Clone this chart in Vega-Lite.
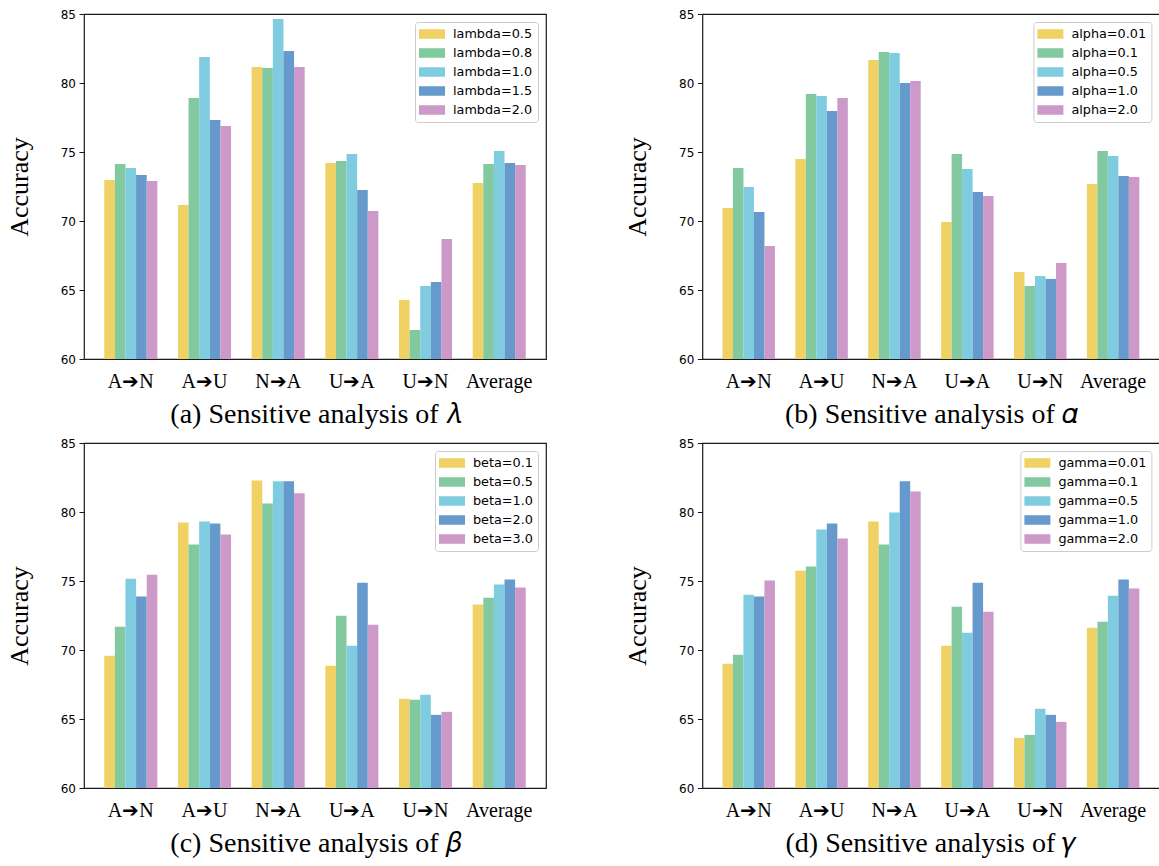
{
  "$schema": "https://vega.github.io/schema/vega-lite/v6.json",
  "background": "white",
  "padding": {"left": 5, "top": 7, "right": 0, "bottom": 0},
  "datasets": {
    "lambda": [
      {"task": "A➔N", "setting": "lambda=0.5", "acc": 72.97},
      {"task": "A➔N", "setting": "lambda=0.8", "acc": 74.13},
      {"task": "A➔N", "setting": "lambda=1.0", "acc": 73.84},
      {"task": "A➔N", "setting": "lambda=1.5", "acc": 73.33},
      {"task": "A➔N", "setting": "lambda=2.0", "acc": 72.9},
      {"task": "A➔U", "setting": "lambda=0.5", "acc": 71.16},
      {"task": "A➔U", "setting": "lambda=0.8", "acc": 78.91},
      {"task": "A➔U", "setting": "lambda=1.0", "acc": 81.88},
      {"task": "A➔U", "setting": "lambda=1.5", "acc": 77.32},
      {"task": "A➔U", "setting": "lambda=2.0", "acc": 76.88},
      {"task": "N➔A", "setting": "lambda=0.5", "acc": 81.16},
      {"task": "N➔A", "setting": "lambda=0.8", "acc": 81.09},
      {"task": "N➔A", "setting": "lambda=1.0", "acc": 84.64},
      {"task": "N➔A", "setting": "lambda=1.5", "acc": 82.32},
      {"task": "N➔A", "setting": "lambda=2.0", "acc": 81.16},
      {"task": "U➔A", "setting": "lambda=0.5", "acc": 74.2},
      {"task": "U➔A", "setting": "lambda=0.8", "acc": 74.35},
      {"task": "U➔A", "setting": "lambda=1.0", "acc": 74.86},
      {"task": "U➔A", "setting": "lambda=1.5", "acc": 72.25},
      {"task": "U➔A", "setting": "lambda=2.0", "acc": 70.72},
      {"task": "U➔N", "setting": "lambda=0.5", "acc": 64.28},
      {"task": "U➔N", "setting": "lambda=0.8", "acc": 62.1},
      {"task": "U➔N", "setting": "lambda=1.0", "acc": 65.29},
      {"task": "U➔N", "setting": "lambda=1.5", "acc": 65.58},
      {"task": "U➔N", "setting": "lambda=2.0", "acc": 68.7},
      {"task": "Average", "setting": "lambda=0.5", "acc": 72.75},
      {"task": "Average", "setting": "lambda=0.8", "acc": 74.13},
      {"task": "Average", "setting": "lambda=1.0", "acc": 75.07},
      {"task": "Average", "setting": "lambda=1.5", "acc": 74.2},
      {"task": "Average", "setting": "lambda=2.0", "acc": 74.06}
    ],
    "alpha": [
      {"task": "A➔N", "setting": "alpha=0.01", "acc": 70.94},
      {"task": "A➔N", "setting": "alpha=0.1", "acc": 73.84},
      {"task": "A➔N", "setting": "alpha=0.5", "acc": 72.46},
      {"task": "A➔N", "setting": "alpha=1.0", "acc": 70.65},
      {"task": "A➔N", "setting": "alpha=2.0", "acc": 68.19},
      {"task": "A➔U", "setting": "alpha=0.01", "acc": 74.49},
      {"task": "A➔U", "setting": "alpha=0.1", "acc": 79.2},
      {"task": "A➔U", "setting": "alpha=0.5", "acc": 79.06},
      {"task": "A➔U", "setting": "alpha=1.0", "acc": 77.97},
      {"task": "A➔U", "setting": "alpha=2.0", "acc": 78.91},
      {"task": "N➔A", "setting": "alpha=0.01", "acc": 81.67},
      {"task": "N➔A", "setting": "alpha=0.1", "acc": 82.25},
      {"task": "N➔A", "setting": "alpha=0.5", "acc": 82.17},
      {"task": "N➔A", "setting": "alpha=1.0", "acc": 80.0},
      {"task": "N➔A", "setting": "alpha=2.0", "acc": 80.14},
      {"task": "U➔A", "setting": "alpha=0.01", "acc": 69.93},
      {"task": "U➔A", "setting": "alpha=0.1", "acc": 74.86},
      {"task": "U➔A", "setting": "alpha=0.5", "acc": 73.77},
      {"task": "U➔A", "setting": "alpha=1.0", "acc": 72.1},
      {"task": "U➔A", "setting": "alpha=2.0", "acc": 71.81},
      {"task": "U➔N", "setting": "alpha=0.01", "acc": 66.3},
      {"task": "U➔N", "setting": "alpha=0.1", "acc": 65.29},
      {"task": "U➔N", "setting": "alpha=0.5", "acc": 66.01},
      {"task": "U➔N", "setting": "alpha=1.0", "acc": 65.8},
      {"task": "U➔N", "setting": "alpha=2.0", "acc": 66.96},
      {"task": "Average", "setting": "alpha=0.01", "acc": 72.68},
      {"task": "Average", "setting": "alpha=0.1", "acc": 75.07},
      {"task": "Average", "setting": "alpha=0.5", "acc": 74.71},
      {"task": "Average", "setting": "alpha=1.0", "acc": 73.26},
      {"task": "Average", "setting": "alpha=2.0", "acc": 73.19}
    ],
    "beta": [
      {"task": "A➔N", "setting": "beta=0.1", "acc": 69.58},
      {"task": "A➔N", "setting": "beta=0.5", "acc": 71.69},
      {"task": "A➔N", "setting": "beta=1.0", "acc": 75.17},
      {"task": "A➔N", "setting": "beta=2.0", "acc": 73.87},
      {"task": "A➔N", "setting": "beta=3.0", "acc": 75.46},
      {"task": "A➔U", "setting": "beta=0.1", "acc": 79.24},
      {"task": "A➔U", "setting": "beta=0.5", "acc": 77.64},
      {"task": "A➔U", "setting": "beta=1.0", "acc": 79.31},
      {"task": "A➔U", "setting": "beta=2.0", "acc": 79.17},
      {"task": "A➔U", "setting": "beta=3.0", "acc": 78.37},
      {"task": "N➔A", "setting": "beta=0.1", "acc": 82.29},
      {"task": "N➔A", "setting": "beta=0.5", "acc": 80.62},
      {"task": "N➔A", "setting": "beta=1.0", "acc": 82.22},
      {"task": "N➔A", "setting": "beta=2.0", "acc": 82.22},
      {"task": "N➔A", "setting": "beta=3.0", "acc": 81.35},
      {"task": "U➔A", "setting": "beta=0.1", "acc": 68.86},
      {"task": "U➔A", "setting": "beta=0.5", "acc": 72.49},
      {"task": "U➔A", "setting": "beta=1.0", "acc": 70.31},
      {"task": "U➔A", "setting": "beta=2.0", "acc": 74.88},
      {"task": "U➔A", "setting": "beta=3.0", "acc": 71.83},
      {"task": "U➔N", "setting": "beta=0.1", "acc": 66.46},
      {"task": "U➔N", "setting": "beta=0.5", "acc": 66.39},
      {"task": "U➔N", "setting": "beta=1.0", "acc": 66.75},
      {"task": "U➔N", "setting": "beta=2.0", "acc": 65.3},
      {"task": "U➔N", "setting": "beta=3.0", "acc": 65.52},
      {"task": "Average", "setting": "beta=0.1", "acc": 73.29},
      {"task": "Average", "setting": "beta=0.5", "acc": 73.79},
      {"task": "Average", "setting": "beta=1.0", "acc": 74.74},
      {"task": "Average", "setting": "beta=2.0", "acc": 75.1},
      {"task": "Average", "setting": "beta=3.0", "acc": 74.52}
    ],
    "gamma": [
      {"task": "A➔N", "setting": "gamma=0.01", "acc": 69.0},
      {"task": "A➔N", "setting": "gamma=0.1", "acc": 69.66},
      {"task": "A➔N", "setting": "gamma=0.5", "acc": 74.01},
      {"task": "A➔N", "setting": "gamma=1.0", "acc": 73.87},
      {"task": "A➔N", "setting": "gamma=2.0", "acc": 75.03},
      {"task": "A➔U", "setting": "gamma=0.01", "acc": 75.75},
      {"task": "A➔U", "setting": "gamma=0.1", "acc": 76.05},
      {"task": "A➔U", "setting": "gamma=0.5", "acc": 78.73},
      {"task": "A➔U", "setting": "gamma=1.0", "acc": 79.17},
      {"task": "A➔U", "setting": "gamma=2.0", "acc": 78.08},
      {"task": "N➔A", "setting": "gamma=0.01", "acc": 79.31},
      {"task": "N➔A", "setting": "gamma=0.1", "acc": 77.64},
      {"task": "N➔A", "setting": "gamma=0.5", "acc": 79.97},
      {"task": "N➔A", "setting": "gamma=1.0", "acc": 82.22},
      {"task": "N➔A", "setting": "gamma=2.0", "acc": 81.49},
      {"task": "U➔A", "setting": "gamma=0.01", "acc": 70.31},
      {"task": "U➔A", "setting": "gamma=0.1", "acc": 73.14},
      {"task": "U➔A", "setting": "gamma=0.5", "acc": 71.25},
      {"task": "U➔A", "setting": "gamma=1.0", "acc": 74.88},
      {"task": "U➔A", "setting": "gamma=2.0", "acc": 72.78},
      {"task": "U➔N", "setting": "gamma=0.01", "acc": 63.63},
      {"task": "U➔N", "setting": "gamma=0.1", "acc": 63.85},
      {"task": "U➔N", "setting": "gamma=0.5", "acc": 65.74},
      {"task": "U➔N", "setting": "gamma=1.0", "acc": 65.3},
      {"task": "U➔N", "setting": "gamma=2.0", "acc": 64.79},
      {"task": "Average", "setting": "gamma=0.01", "acc": 71.62},
      {"task": "Average", "setting": "gamma=0.1", "acc": 72.05},
      {"task": "Average", "setting": "gamma=0.5", "acc": 73.94},
      {"task": "Average", "setting": "gamma=1.0", "acc": 75.1},
      {"task": "Average", "setting": "gamma=2.0", "acc": 74.45}
    ]
  },
  "columns": 2,
  "spacing": {"row": 84, "column": 156.4},
  "bounds": "flush",
  "concat": [
    {
      "width": 462, "height": 345,
      "data": {"name": "lambda"},
      "mark": {"type": "bar", "clip": true},
      "encoding": {
        "x": {"field": "task", "type": "nominal", "sort": ["A➔N", "A➔U", "N➔A", "U➔A", "U➔N", "Average"], "scale": {"paddingInner": 0.28, "paddingOuter": 0.275}, "axis": {"title": "(a) Sensitive analysis of 𝜆"}},
        "xOffset": {"field": "setting", "type": "nominal", "sort": ["lambda=0.5", "lambda=0.8", "lambda=1.0", "lambda=1.5", "lambda=2.0"], "scale": {"paddingInner": 0, "paddingOuter": 0}},
        "y": {"field": "acc", "type": "quantitative", "scale": {"domain": [60, 85], "nice": false, "zero": false}, "axis": {"title": "Accuracy", "values": [60, 65, 70, 75, 80, 85]}},
        "y2": {"datum": 60},
        "color": {"field": "setting", "type": "nominal", "scale": {"domain": ["lambda=0.5", "lambda=0.8", "lambda=1.0", "lambda=1.5", "lambda=2.0"], "range": ["#f0d264", "#82c9a0", "#7fcce0", "#6699cc", "#cc99c8"]}, "legend": {"title": null}}
      }
    },
    {
      "width": 457, "height": 345,
      "data": {"name": "alpha"},
      "mark": {"type": "bar", "clip": true},
      "encoding": {
        "x": {"field": "task", "type": "nominal", "sort": ["A➔N", "A➔U", "N➔A", "U➔A", "U➔N", "Average"], "scale": {"paddingInner": 0.28, "paddingOuter": 0.275}, "axis": {"title": "(b) Sensitive analysis of 𝛼"}},
        "xOffset": {"field": "setting", "type": "nominal", "sort": ["alpha=0.01", "alpha=0.1", "alpha=0.5", "alpha=1.0", "alpha=2.0"], "scale": {"paddingInner": 0, "paddingOuter": 0}},
        "y": {"field": "acc", "type": "quantitative", "scale": {"domain": [60, 85], "nice": false, "zero": false}, "axis": {"title": "Accuracy", "values": [60, 65, 70, 75, 80, 85]}},
        "y2": {"datum": 60},
        "color": {"field": "setting", "type": "nominal", "scale": {"domain": ["alpha=0.01", "alpha=0.1", "alpha=0.5", "alpha=1.0", "alpha=2.0"], "range": ["#f0d264", "#82c9a0", "#7fcce0", "#6699cc", "#cc99c8"]}, "legend": {"title": null}}
      }
    },
    {
      "width": 462, "height": 345,
      "data": {"name": "beta"},
      "mark": {"type": "bar", "clip": true},
      "encoding": {
        "x": {"field": "task", "type": "nominal", "sort": ["A➔N", "A➔U", "N➔A", "U➔A", "U➔N", "Average"], "scale": {"paddingInner": 0.28, "paddingOuter": 0.275}, "axis": {"title": "(c) Sensitive analysis of 𝛽"}},
        "xOffset": {"field": "setting", "type": "nominal", "sort": ["beta=0.1", "beta=0.5", "beta=1.0", "beta=2.0", "beta=3.0"], "scale": {"paddingInner": 0, "paddingOuter": 0}},
        "y": {"field": "acc", "type": "quantitative", "scale": {"domain": [60, 85], "nice": false, "zero": false}, "axis": {"title": "Accuracy", "values": [60, 65, 70, 75, 80, 85]}},
        "y2": {"datum": 60},
        "color": {"field": "setting", "type": "nominal", "scale": {"domain": ["beta=0.1", "beta=0.5", "beta=1.0", "beta=2.0", "beta=3.0"], "range": ["#f0d264", "#82c9a0", "#7fcce0", "#6699cc", "#cc99c8"]}, "legend": {"title": null}}
      }
    },
    {
      "width": 457, "height": 345,
      "data": {"name": "gamma"},
      "mark": {"type": "bar", "clip": true},
      "encoding": {
        "x": {"field": "task", "type": "nominal", "sort": ["A➔N", "A➔U", "N➔A", "U➔A", "U➔N", "Average"], "scale": {"paddingInner": 0.28, "paddingOuter": 0.275}, "axis": {"title": "(d) Sensitive analysis of 𝛾"}},
        "xOffset": {"field": "setting", "type": "nominal", "sort": ["gamma=0.01", "gamma=0.1", "gamma=0.5", "gamma=1.0", "gamma=2.0"], "scale": {"paddingInner": 0, "paddingOuter": 0}},
        "y": {"field": "acc", "type": "quantitative", "scale": {"domain": [60, 85], "nice": false, "zero": false}, "axis": {"title": "Accuracy", "values": [60, 65, 70, 75, 80, 85]}},
        "y2": {"datum": 60},
        "color": {"field": "setting", "type": "nominal", "scale": {"domain": ["gamma=0.01", "gamma=0.1", "gamma=0.5", "gamma=1.0", "gamma=2.0"], "range": ["#f0d264", "#82c9a0", "#7fcce0", "#6699cc", "#cc99c8"]}, "legend": {"title": null}}
      }
    }
  ],
  "resolve": {
    "scale": {"color": "independent", "x": "independent", "y": "independent", "xOffset": "independent"},
    "legend": {"color": "independent"},
    "axis": {"x": "independent", "y": "independent"}
  },
  "config": {
    "view": {"stroke": "#1a1a1a", "strokeWidth": 1.2},
    "axisY": {"domain": false, "grid": false, "ticks": true, "tickSize": 5, "tickColor": "#1a1a1a", "tickWidth": 1, "labelFont": "DejaVu Sans", "labelFontSize": 12, "labelColor": "#000", "labelPadding": 3.5, "titleFont": "Liberation Serif", "titleFontSize": 26, "titleFontWeight": "normal", "titleColor": "#000", "titlePadding": 28},
    "axisX": {"domain": false, "grid": false, "ticks": false, "labelFont": "Liberation Serif", "labelFontSize": 20, "labelColor": "#000", "labelPadding": 12, "labelAngle": 0, "titleFont": "Liberation Serif", "titleFontSize": 28, "titleFontWeight": "normal", "titleColor": "#000", "titlePadding": 9},
    "legend": {"orient": "top-right", "offset": 8, "symbolType": "M-1.857,-0.68H1.857V0.68H-1.857Z", "symbolSize": 196, "symbolOffset": 5, "labelOffset": 14, "rowPadding": 5, "padding": 5, "labelFont": "DejaVu Sans", "labelFontSize": 12.8, "labelColor": "#000", "strokeColor": "#cccccc", "fillColor": "white", "cornerRadius": 3, "symbolStrokeWidth": 0, "symbolOpacity": 1}
  }
}
